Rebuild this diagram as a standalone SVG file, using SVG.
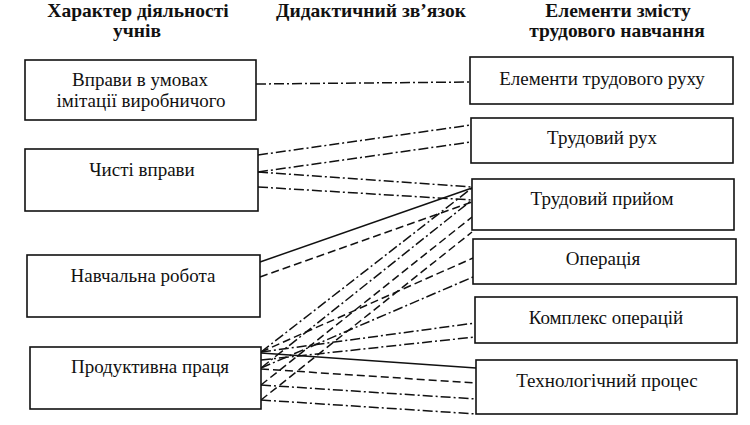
<svg xmlns="http://www.w3.org/2000/svg" width="750" height="425" viewBox="0 0 750 425">
<style>
.box{fill:#fff;stroke:#111;stroke-width:1.6}
.t{font-family:"Liberation Serif","Times New Roman",serif;font-size:19px;fill:#111;text-anchor:middle}
.h{font-family:"Liberation Serif","Times New Roman",serif;font-size:19.5px;font-weight:bold;fill:#111;text-anchor:middle}
.c{fill:none;stroke:#111;stroke-width:1.5}
.dd{stroke-dasharray:10 3 2 3}
.ds{stroke-dasharray:8 4}
</style>
<rect width="750" height="425" fill="#fff"/>
<g id="headers">
<text class="h" x="138" y="17">Характер діяльності</text>
<text class="h" x="137" y="37">учнів</text>
<text class="h" x="371" y="17">Дидактичний зв’язок</text>
<text class="h" x="618" y="17">Елементи змісту</text>
<text class="h" x="617" y="37">трудового навчання</text>
</g>
<g id="connectors">
<path class="c dd" d="M256,84 L470,82"/>
<path class="c dd" d="M258,155 L471,125"/>
<path class="c dd" d="M258,172 L471,142"/>
<path class="c dd" d="M258,172 L472,187"/>
<path class="c dd" d="M258,187 L472,200"/>
<path class="c" d="M260,262 L472,188"/>
<path class="c ds" d="M260,277 L472,202"/>
<path class="c dd" d="M261,352 L472,188"/>
<path class="c dd" d="M261,368 L472,200"/>
<path class="c ds" d="M261,385 L472,217"/>
<path class="c ds" d="M261,400 L472,232"/>
<path class="c ds" d="M261,352 L473,258"/>
<path class="c dd" d="M261,368 L473,277"/>
<path class="c dd" d="M261,352 L475,323"/>
<path class="c dd" d="M261,360 L475,337"/>
<path class="c" d="M261,353 L476,368"/>
<path class="c ds" d="M261,369 L476,383"/>
<path class="c dd" d="M261,385 L476,399"/>
<path class="c dd" d="M261,400 L476,414"/>
</g>
<g id="l1"><rect class="box" x="25" y="60" width="231" height="60"/><text class="t" x="140" y="86">Вправи в умовах</text><text class="t" x="141" y="107">імітації виробничого</text></g>
<g id="l2"><rect class="box" x="25" y="149" width="233" height="62"/><text class="t" x="142" y="176">Чисті вправи</text></g>
<g id="l3"><rect class="box" x="27" y="255" width="233" height="62"/><text class="t" x="143" y="282">Навчальна робота</text></g>
<g id="l4"><rect class="box" x="30" y="347" width="231" height="62"/><text class="t" x="150" y="373">Продуктивна праця</text></g>
<g id="r1"><rect class="box" x="470" y="57" width="263" height="47"/><text class="t" x="602" y="85">Елементи трудового руху</text></g>
<g id="r2"><rect class="box" x="471" y="118" width="262" height="45"/><text class="t" x="602" y="144">Трудовий рух</text></g>
<g id="r3"><rect class="box" x="472" y="179" width="262" height="51"/><text class="t" x="602" y="205">Трудовий прийом</text></g>
<g id="r4"><rect class="box" x="473" y="239" width="263" height="45"/><text class="t" x="603" y="265">Операція</text></g>
<g id="r5"><rect class="box" x="475" y="297" width="262" height="46"/><text class="t" x="606" y="324">Комплекс операцій</text></g>
<g id="r6"><rect class="box" x="476" y="360" width="261" height="54"/><text class="t" x="607" y="387">Технологічний процес</text></g>
</svg>
